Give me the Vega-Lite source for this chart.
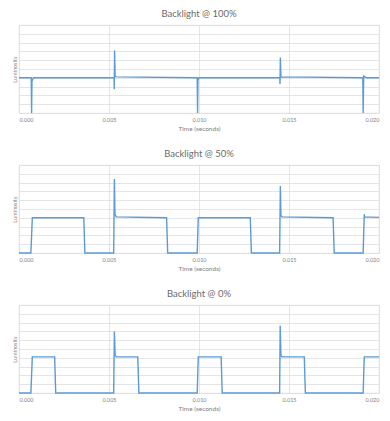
{
  "$schema": "https://vega.github.io/schema/vega-lite/v6.json",
  "background": "white",
  "padding": {"left": 11, "top": 8, "right": 4, "bottom": 4},
  "spacing": 15,
  "config": {
    "font": "Lato",
    "view": {"stroke": "#d9d9d9", "strokeWidth": 0.8},
    "axis": {"gridColor": "#dedede", "gridWidth": 0.8, "domain": false, "ticks": false,
      "labelColor": "#7f7f7f", "labelFontSize": 5.5, "titleColor": "#7f7f7f", "titleFontSize": 6.5, "titleFontWeight": "normal"},
    "title": {"fontSize": 9.5, "fontWeight": "normal", "color": "#6b6b6b", "anchor": "middle", "offset": 7},
    "line": {"color": "#5b9bd5", "strokeWidth": 1.4, "interpolate": "linear"}
  },
  "datasets": {
    "d100": [
      {"t": 0, "lum": 4.0}, {"t": 0.00068, "lum": 4.0}, {"t": 0.0007, "lum": 0.0}, {"t": 0.00072, "lum": 3.6},
      {"t": 0.0008, "lum": 4.0}, {"t": 0.00528, "lum": 4.0}, {"t": 0.00529, "lum": 2.7}, {"t": 0.00531, "lum": 7.1},
      {"t": 0.00534, "lum": 4.2}, {"t": 0.0054, "lum": 4.1}, {"t": 0.0099, "lum": 4.0}, {"t": 0.00992, "lum": 0.0},
      {"t": 0.00994, "lum": 3.7}, {"t": 0.01, "lum": 4.0}, {"t": 0.01449, "lum": 4.0}, {"t": 0.0145, "lum": 3.3},
      {"t": 0.01452, "lum": 6.3}, {"t": 0.01455, "lum": 4.1}, {"t": 0.0191, "lum": 4.0}, {"t": 0.01912, "lum": 0.0},
      {"t": 0.01915, "lum": 4.2}, {"t": 0.0193, "lum": 4.0}, {"t": 0.02, "lum": 4.0}
    ],
    "d50": [
      {"t": 0, "lum": 0}, {"t": 0.00066, "lum": 0}, {"t": 0.00074, "lum": 4.0}, {"t": 0.0036, "lum": 4.0},
      {"t": 0.00366, "lum": 0}, {"t": 0.00526, "lum": 0}, {"t": 0.0053, "lum": 8.4}, {"t": 0.00533, "lum": 4.4},
      {"t": 0.0054, "lum": 4.1}, {"t": 0.0082, "lum": 4.0}, {"t": 0.00826, "lum": 0}, {"t": 0.0099, "lum": 0},
      {"t": 0.00996, "lum": 4.0}, {"t": 0.01285, "lum": 4.0}, {"t": 0.01291, "lum": 0}, {"t": 0.01448, "lum": 0},
      {"t": 0.01452, "lum": 7.6}, {"t": 0.01455, "lum": 4.3}, {"t": 0.0146, "lum": 4.1}, {"t": 0.01745, "lum": 4.0},
      {"t": 0.01751, "lum": 0}, {"t": 0.01912, "lum": 0}, {"t": 0.01918, "lum": 4.4}, {"t": 0.0192, "lum": 4.1},
      {"t": 0.02, "lum": 4.05}
    ],
    "d0": [
      {"t": 0, "lum": 0}, {"t": 0.00066, "lum": 0}, {"t": 0.00074, "lum": 4.1}, {"t": 0.00198, "lum": 4.1},
      {"t": 0.00204, "lum": 0}, {"t": 0.00526, "lum": 0}, {"t": 0.0053, "lum": 7.0}, {"t": 0.00534, "lum": 4.3},
      {"t": 0.0054, "lum": 4.1}, {"t": 0.0066, "lum": 4.1}, {"t": 0.00666, "lum": 0}, {"t": 0.0099, "lum": 0},
      {"t": 0.00996, "lum": 4.1}, {"t": 0.01123, "lum": 4.1}, {"t": 0.01129, "lum": 0}, {"t": 0.01448, "lum": 0},
      {"t": 0.01451, "lum": 7.65}, {"t": 0.01455, "lum": 4.3}, {"t": 0.0146, "lum": 4.1}, {"t": 0.01585, "lum": 4.1},
      {"t": 0.01591, "lum": 0}, {"t": 0.01912, "lum": 0}, {"t": 0.01918, "lum": 4.1}, {"t": 0.02, "lum": 4.1}
    ]
  },
  "vconcat": [
    {
      "title": "Backlight @ 100%",
      "width": 360, "height": 88,
      "data": {"name": "d100"},
      "mark": {"type": "line"},
      "encoding": {
        "x": {"field": "t", "type": "quantitative", "scale": {"domain": [0, 0.02], "nice": false},
          "axis": {"values": [0, 0.005, 0.01, 0.015, 0.02], "format": ".3f", "title": "Time (seconds)", "labelPadding": 4, "titlePadding": 3}},
        "y": {"field": "lum", "type": "quantitative", "scale": {"domain": [0, 10], "nice": false},
          "axis": {"values": [0,1,2,3,4,5,6,7,8,9,10], "labels": false, "title": "Luminosity", "titleFontSize": 5.5, "titlePadding": 2}}
      }
    },
    {
      "title": "Backlight @ 50%",
      "width": 360, "height": 88,
      "data": {"name": "d50"},
      "mark": {"type": "line"},
      "encoding": {
        "x": {"field": "t", "type": "quantitative", "scale": {"domain": [0, 0.02], "nice": false},
          "axis": {"values": [0, 0.005, 0.01, 0.015, 0.02], "format": ".3f", "title": "Time (seconds)", "labelPadding": 4, "titlePadding": 3}},
        "y": {"field": "lum", "type": "quantitative", "scale": {"domain": [0, 10], "nice": false},
          "axis": {"values": [0,1,2,3,4,5,6,7,8,9,10], "labels": false, "title": "Luminosity", "titleFontSize": 5.5, "titlePadding": 2}}
      }
    },
    {
      "title": "Backlight @ 0%",
      "width": 360, "height": 88,
      "data": {"name": "d0"},
      "mark": {"type": "line"},
      "encoding": {
        "x": {"field": "t", "type": "quantitative", "scale": {"domain": [0, 0.02], "nice": false},
          "axis": {"values": [0, 0.005, 0.01, 0.015, 0.02], "format": ".3f", "title": "Time (seconds)", "labelPadding": 4, "titlePadding": 3}},
        "y": {"field": "lum", "type": "quantitative", "scale": {"domain": [0, 10], "nice": false},
          "axis": {"values": [0,1,2,3,4,5,6,7,8,9,10], "labels": false, "title": "Luminosity", "titleFontSize": 5.5, "titlePadding": 2}}
      }
    }
  ]
}
